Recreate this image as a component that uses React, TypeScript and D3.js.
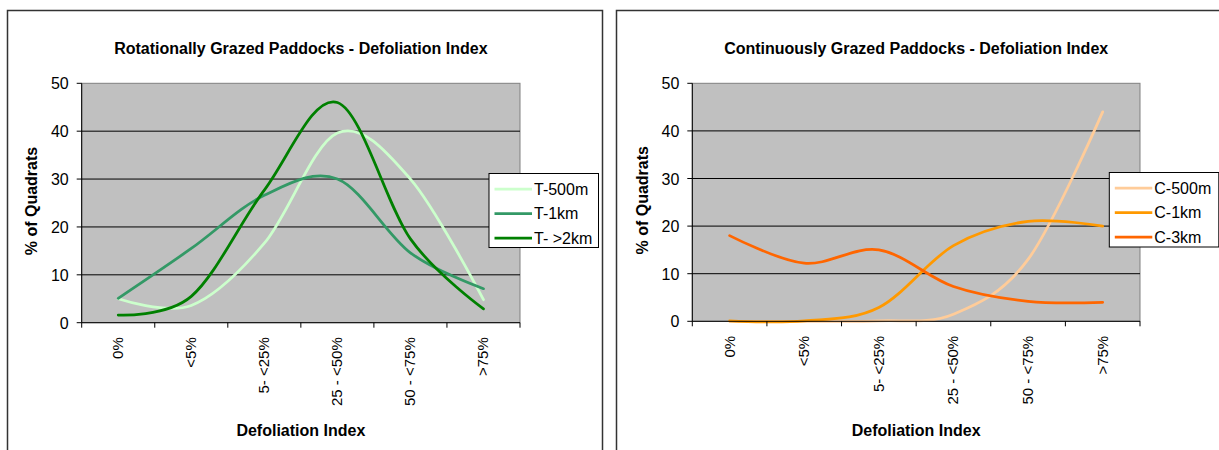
import React from "react";
import * as d3 from "d3";

const categories = ["0%", "<5%", "5- <25%", "25 - <50%", "50 - <75%", ">75%"];
const yTicks = [0, 10, 20, 30, 40, 50];

const tNames = ["T-500m", "T-1km", "T- >2km"];
const t500 = [5, 3.6, 16.6, 39.6, 30, 4.8];
const t1km = [5.1, 15.5, 26.6, 30, 14.6, 7.1];
const t2km = [1.6, 5.5, 27.7, 46, 17.5, 2.9];
const tColors = ["#CCFFCC", "#339966", "#008000"];

const cNames = ["C-500m", "C-1km", "C-3km"];
const c500 = [0, 0, 0.1, 1.5, 13, 44];
const c1km = [0.1, 0.1, 2.9, 15.9, 21, 20];
const c3km = [18, 12.2, 15, 7.3, 4.2, 4];
const cColors = ["#FFCC99", "#FF9900", "#FF6600"];

const FONT = "Arial, 'Liberation Sans', Helvetica, sans-serif";

type PanelProps = {
  box: { x: number; y: number; w: number; h: number };
  plot: { x0: number; x1: number; y0: number; y1: number };
  title: string;
  names: string[];
  data: number[][];
  colors: string[];
  legend: { x: number; y: number; w: number; h: number };
  yLabelX: number;
};

function Panel({ box, plot, title, names, data, colors, legend, yLabelX }: PanelProps) {
  const x = d3.scaleBand<string>().domain(categories).range([plot.x0, plot.x1]).paddingInner(0).paddingOuter(0);
  const y = d3.scaleLinear().domain([0, 50]).range([plot.y1, plot.y0]);
  const cx = (c: string) => (x(c) as number) + x.bandwidth() / 2;
  const line = d3
    .line<number>()
    .x((_, i) => cx(categories[i]))
    .y((v) => y(v))
    .curve(d3.curveCardinal.tension(0));
  const boundaries = categories.map((c) => x(c) as number).concat([plot.x1]);
  const midX = (plot.x0 + plot.x1) / 2;
  const midY = (plot.y0 + plot.y1) / 2;
  const rowH = 24.5;
  const row0 = legend.y + 15.5;
  return (
    <g>
      <rect x={box.x} y={box.y} width={box.w} height={box.h} fill="#fff" stroke="#333" strokeWidth={1.5} />
      <text x={midX} y={54} textAnchor="middle" fontFamily={FONT} fontWeight="bold" fontSize={16} fill="#000">
        {title}
      </text>
      <rect x={plot.x0} y={plot.y0} width={plot.x1 - plot.x0} height={plot.y1 - plot.y0} fill="#C0C0C0" stroke="#808080" strokeWidth={1} />
      {yTicks.slice(1, -1).map((t) => (
        <line key={"g" + t} x1={plot.x0} x2={plot.x1} y1={y(t)} y2={y(t)} stroke="#000" strokeWidth={1} />
      ))}
      {data.map((d, i) => (
        <path key={names[i]} d={line(d) || ""} fill="none" stroke={colors[i]} strokeWidth={2.75} strokeLinejoin="round" strokeLinecap="round" />
      ))}
      <line x1={plot.x0} x2={plot.x0} y1={plot.y0} y2={plot.y1} stroke="#000" strokeWidth={1} />
      <line x1={plot.x0} x2={plot.x1} y1={plot.y1} y2={plot.y1} stroke="#000" strokeWidth={1} />
      {yTicks.map((t) => (
        <g key={"y" + t}>
          <line x1={plot.x0 - 5} x2={plot.x0} y1={y(t)} y2={y(t)} stroke="#000" strokeWidth={1} />
          <text x={plot.x0 - 13} y={y(t) + 6} textAnchor="end" fontFamily={FONT} fontSize={16} fill="#000">
            {t}
          </text>
        </g>
      ))}
      {boundaries.map((bx, i) => (
        <line key={"xt" + i} x1={bx} x2={bx} y1={plot.y1} y2={plot.y1 + 5} stroke="#000" strokeWidth={1} />
      ))}
      {categories.map((c) => (
        <text
          key={"xl" + c}
          transform={`translate(${cx(c) + 5},${plot.y1 + 14.5}) rotate(-90)`}
          textAnchor="end"
          fontFamily={FONT}
          fontSize={15}
          fill="#000"
        >
          {c}
        </text>
      ))}
      <text x={midX} y={436} textAnchor="middle" fontFamily={FONT} fontWeight="bold" fontSize={16} fill="#000">
        Defoliation Index
      </text>
      <text
        transform={`translate(${yLabelX},${midY - 2}) rotate(-90)`}
        textAnchor="middle"
        fontFamily={FONT}
        fontWeight="bold"
        fontSize={16}
        fill="#000"
      >
        % of Quadrats
      </text>
      <rect x={legend.x} y={legend.y} width={legend.w} height={legend.h} fill="#fff" stroke="#000" strokeWidth={1} />
      {names.map((n, i) => (
        <g key={"lg" + n}>
          <line
            x1={legend.x + 5.5}
            x2={legend.x + 43}
            y1={row0 + i * rowH}
            y2={row0 + i * rowH}
            stroke={colors[i]}
            strokeWidth={2.75}
          />
          <text x={legend.x + 45} y={row0 + i * rowH + 5.8} fontFamily={FONT} fontSize={16} fill="#000">
            {n}
          </text>
        </g>
      ))}
    </g>
  );
}

export default function App() {
  return (
    <svg width={1219} height={450} style={{ position: "absolute", left: 0, top: 0, background: "#fff" }}>
      <Panel
        box={{ x: 7.5, y: 10.5, w: 595, h: 460 }}
        plot={{ x0: 81.7, x1: 520, y0: 83.3, y1: 322.7 }}
        title="Rotationally Grazed Paddocks - Defoliation Index"
        names={tNames}
        data={[t500, t1km, t2km]}
        colors={tColors}
        legend={{ x: 489, y: 173.5, w: 109.5, h: 74 }}
        yLabelX={37.3}
      />
      <Panel
        box={{ x: 616.5, y: 10.5, w: 700, h: 460 }}
        plot={{ x0: 692.3, x1: 1140, y0: 83.3, y1: 321.3 }}
        title="Continuously Grazed Paddocks - Defoliation Index"
        names={cNames}
        data={[c500, c1km, c3km]}
        colors={cColors}
        legend={{ x: 1109.3, y: 172.5, w: 109.5, h: 74.5 }}
        yLabelX={648}
      />
    </svg>
  );
}
